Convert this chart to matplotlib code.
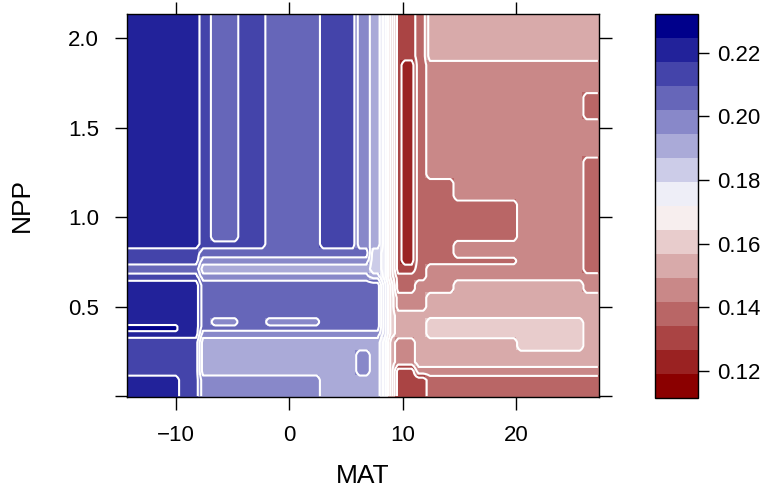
import numpy as np
import matplotlib.pyplot as plt
from matplotlib.colors import LinearSegmentedColormap, ListedColormap, BoundaryNorm

plt.rcParams['font.family'] = ['Liberation Sans', 'DejaVu Sans']

# cell edges (MAT left->right, NPP top->bottom)
mat_edges = [-14.3, -9.8, -8.0, -7.0, -4.6, -2.1, 2.6, 5.8, 7.0, 8.0,
             8.7, 9.3, 9.8, 11.0, 12.0, 14.5, 20.0, 25.8, 27.3]
npp_edges = [2.136, 1.88, 1.70, 1.55, 1.34, 1.22, 1.10, 0.87, 0.83, 0.78, 0.74,
             0.69, 0.65, 0.58, 0.48, 0.44, 0.40, 0.37, 0.33, 0.26, 0.17, 0.12, -0.004]

# partial dependence values, one row per NPP band (top first)
# MAT < -8
left_pd = [
    [0.221, 0.221], [0.221, 0.221], [0.221, 0.221], [0.221, 0.221],
    [0.221, 0.221], [0.221, 0.221], [0.221, 0.221], [0.221, 0.221],
    [0.213, 0.213], [0.213, 0.213], [0.206, 0.206], [0.213, 0.213],
    [0.221, 0.221], [0.221, 0.221], [0.221, 0.221], [0.221, 0.221],
    [0.229, 0.221], [0.221, 0.221], [0.213, 0.213], [0.213, 0.213],
    [0.213, 0.213], [0.221, 0.213],
]
# MAT -8 .. 5.8
blue_pd = [
    [0.213, 0.206, 0.213, 0.206, 0.213],
    [0.213, 0.206, 0.213, 0.206, 0.213],
    [0.213, 0.206, 0.213, 0.206, 0.213],
    [0.213, 0.206, 0.213, 0.206, 0.213],
    [0.213, 0.206, 0.213, 0.206, 0.213],
    [0.213, 0.206, 0.213, 0.206, 0.213],
    [0.213, 0.206, 0.213, 0.206, 0.213],
    [0.213, 0.213, 0.213, 0.206, 0.213],
    [0.206, 0.206, 0.206, 0.206, 0.206],
    [0.198, 0.198, 0.198, 0.198, 0.198],
    [0.191, 0.191, 0.191, 0.191, 0.191],
    [0.198, 0.198, 0.198, 0.198, 0.198],
    [0.206, 0.206, 0.206, 0.206, 0.206],
    [0.206, 0.206, 0.206, 0.206, 0.206],
    [0.206, 0.206, 0.206, 0.206, 0.206],
    [0.206, 0.198, 0.206, 0.198, 0.206],
    [0.206, 0.206, 0.206, 0.206, 0.206],
    [0.198, 0.198, 0.198, 0.198, 0.198],
    [0.191, 0.191, 0.191, 0.191, 0.191],
    [0.191, 0.191, 0.191, 0.191, 0.191],
    [0.191, 0.191, 0.191, 0.191, 0.191],
    [0.198, 0.198, 0.198, 0.198, 0.191],
]
# MAT 5.8 .. 12 (the steep drop)
ramp_pd = [
    [0.198, 0.191, 0.176, 0.153, 0.130, 0.130, 0.138],
    [0.198, 0.191, 0.176, 0.153, 0.130, 0.123, 0.138],
    [0.198, 0.191, 0.176, 0.153, 0.130, 0.123, 0.138],
    [0.198, 0.191, 0.176, 0.153, 0.130, 0.123, 0.138],
    [0.198, 0.191, 0.176, 0.153, 0.130, 0.123, 0.138],
    [0.198, 0.191, 0.176, 0.153, 0.130, 0.123, 0.138],
    [0.198, 0.191, 0.176, 0.153, 0.130, 0.123, 0.138],
    [0.198, 0.191, 0.176, 0.153, 0.130, 0.123, 0.138],
    [0.206, 0.183, 0.176, 0.153, 0.130, 0.123, 0.138],
    [0.198, 0.183, 0.176, 0.153, 0.130, 0.123, 0.138],
    [0.191, 0.183, 0.176, 0.153, 0.130, 0.130, 0.138],
    [0.198, 0.191, 0.176, 0.153, 0.138, 0.138, 0.138],
    [0.206, 0.206, 0.183, 0.161, 0.138, 0.138, 0.146],
    [0.206, 0.206, 0.183, 0.161, 0.146, 0.146, 0.146],
    [0.206, 0.206, 0.183, 0.161, 0.153, 0.153, 0.153],
    [0.206, 0.206, 0.183, 0.161, 0.153, 0.153, 0.153],
    [0.206, 0.206, 0.183, 0.161, 0.153, 0.153, 0.153],
    [0.198, 0.198, 0.183, 0.161, 0.153, 0.153, 0.153],
    [0.191, 0.191, 0.176, 0.153, 0.146, 0.146, 0.153],
    [0.198, 0.191, 0.176, 0.153, 0.146, 0.146, 0.153],
    [0.198, 0.191, 0.176, 0.153, 0.130, 0.130, 0.146],
    [0.191, 0.191, 0.176, 0.153, 0.130, 0.130, 0.130],
]
# MAT > 12
red_pd = [
    [0.153, 0.153, 0.153, 0.153],
    [0.146, 0.146, 0.146, 0.146],
    [0.146, 0.146, 0.146, 0.138],
    [0.146, 0.146, 0.146, 0.146],
    [0.146, 0.146, 0.146, 0.138],
    [0.138, 0.146, 0.146, 0.138],
    [0.138, 0.138, 0.146, 0.138],
    [0.138, 0.146, 0.146, 0.138],
    [0.138, 0.146, 0.146, 0.138],
    [0.138, 0.138, 0.146, 0.138],
    [0.146, 0.146, 0.146, 0.138],
    [0.146, 0.146, 0.146, 0.146],
    [0.146, 0.153, 0.153, 0.146],
    [0.153, 0.153, 0.153, 0.153],
    [0.153, 0.153, 0.153, 0.153],
    [0.161, 0.161, 0.161, 0.153],
    [0.161, 0.161, 0.161, 0.153],
    [0.161, 0.161, 0.161, 0.153],
    [0.153, 0.153, 0.161, 0.153],
    [0.153, 0.153, 0.153, 0.153],
    [0.146, 0.146, 0.146, 0.146],
    [0.138, 0.138, 0.138, 0.138],
]

x_ticks = [-10, 0, 10, 20]
y_ticks = [0.0, 0.5, 1.0, 1.5, 2.0]
y_ticklabels = ['', '0.5', '1.0', '1.5', '2.0']
cb_ticks = [0.12, 0.14, 0.16, 0.18, 0.20, 0.22]

z = np.flipud(np.hstack([left_pd, blue_pd, ramp_pd, red_pd]))
xe = np.array(mat_edges)
ye = np.array(npp_edges[::-1])

# 16 equal bins over the range, red-white-blue like lattice levelplot
breaks = np.linspace(0.1115, 0.2322, 17)
rwb = LinearSegmentedColormap.from_list('rwb', ['darkred', 'white', 'darkblue'])
cmap = ListedColormap(rwb(np.linspace(0, 1, 16)))
norm = BoundaryNorm(breaks, 16)


def box_blur(a, n, axis):
    # plain moving average, only used to spread the contour lines a bit
    k = np.ones(n) / n
    pad = [(0, 0), (0, 0)]
    pad[axis] = (n // 2, n // 2)
    ap = np.pad(a, pad, mode='edge')
    return np.apply_along_axis(lambda v: np.convolve(v, k, mode='valid'), axis, ap)


fig = plt.figure(figsize=(7.71, 4.92), dpi=100)
ax = fig.add_axes([127/771, 95/492, 472/771, 383/492])
mesh = ax.pcolormesh(xe, ye, z, cmap=cmap, norm=norm)

# sample the table on a fine grid for the contour lines
xf = np.arange(xe[0] + 0.1, xe[-1], 0.2)
yf = np.arange(ye[0] + 0.005, ye[-1], 0.01)
ix = np.clip(np.searchsorted(xe, xf) - 1, 0, len(xe) - 2)
iy = np.clip(np.searchsorted(ye, yf) - 1, 0, len(ye) - 2)
zf = z[np.ix_(iy, ix)]
zf = box_blur(box_blur(zf, 3, 1), 5, 0)
ax.contour(xf, yf, zf, levels=breaks[1:-1], colors='white', linewidths=1.5)

ax.set_xlim(xe[0], xe[-1])
ax.set_ylim(ye[0], ye[-1])
ax.set_xticks(x_ticks)
ax.set_yticks(y_ticks)
ax.set_yticklabels(y_ticklabels)
ax.tick_params(direction='out', length=9, width=1, top=True, right=True,
               labelsize=16, colors='black')
ax.tick_params(axis='x', pad=11)
ax.tick_params(axis='y', pad=11)
for s in ax.spines.values():
    s.set_linewidth(1)
ax.set_xlabel('MAT', fontsize=19, labelpad=13)
ax.set_ylabel('NPP', fontsize=19, labelpad=25)

cax = fig.add_axes([655/771, 94/492, 43/771, 384/492])
cb = fig.colorbar(mesh, cax=cax, ticks=cb_ticks)
cb.ax.minorticks_off()
cb.ax.set_yticklabels(['%.2f' % t for t in cb_ticks])
cb.ax.tick_params(direction='out', length=8, width=1, labelsize=16, pad=6)
cb.outline.set_linewidth(1)

fig.savefig('out.png', dpi=100)
